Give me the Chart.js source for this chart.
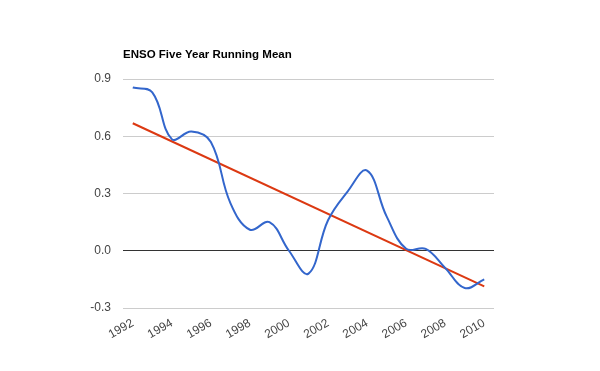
<!DOCTYPE html>
<html>
<head>
<meta charset="utf-8">
<script src="https://cdn.jsdelivr.net/npm/chart.js@4"></script>
<style>
  html, body { margin: 0; padding: 0; background: #fff; }
  #wrap { width: 600px; height: 371px; }
</style>
</head>
<body>
<div id="wrap"><canvas id="chart" width="600" height="371"></canvas></div>
<script>
// chart data
const years = ["1992", "1993", "1994", "1995", "1996", "1997", "1998", "1999", "2000", "2001",
    "2002", "2003", "2004", "2005", "2006", "2007", "2008", "2009", "2010"];
const runningMean = [0.855, 0.83, 0.585, 0.625, 0.57, 0.25, 0.11, 0.15, 0.0, -0.12,
    0.16, 0.31, 0.42, 0.18, 0.01, 0.01, -0.09, -0.195, -0.15];
// trend line: only the two end values, the line is drawn between them
const trend = [0.668, null, null, null, null, null, null, null, null, null,
    null, null, null, null, null, null, null, null, -0.187];
const yTicks = [-0.3, 0.0, 0.3, 0.6, 0.9];
const titleText = "ENSO Five Year Running Mean";

const fontFamily = "'Liberation Sans', Arial, sans-serif";

// draws the left-aligned title above the plot area
const titlePlugin = {
    id: "leftTitle",
    afterDraw(chart) {
        const ctx = chart.ctx;
        ctx.save();
        ctx.font = "bold 11.5px " + fontFamily;
        ctx.fillStyle = "#000";
        ctx.textBaseline = "alphabetic";
        ctx.textAlign = "left";
        ctx.fillText(titleText, chart.chartArea.left, 58);
        ctx.restore();
    },
};

new Chart(document.getElementById("chart"), {
    type: "line",
    data: {
        labels: years,
        datasets: [
            {
                label: "Running mean",
                data: runningMean,
                borderColor: "#3366cc",
                backgroundColor: "#3366cc",
                borderWidth: 2,
                pointRadius: 0,
                tension: 0.4,
                fill: false,
            },
            {
                label: "Trend",
                data: trend,
                borderColor: "#dc3912",
                backgroundColor: "#dc3912",
                borderWidth: 2,
                pointRadius: 0,
                spanGaps: true,
                tension: 0,
                fill: false,
            },
        ],
    },
    options: {
        responsive: false,
        animation: false,
        layout: {
            padding: { left: 0, top: 79, right: 106, bottom: 13 },
        },
        plugins: {
            legend: { display: false },
            title: { display: false },
            tooltip: { enabled: false },
        },
        scales: {
            x: {
                offset: true,
                grid: { display: false },
                border: { display: false },
                ticks: {
                    autoSkip: false,
                    maxRotation: 30,
                    minRotation: 30,
                    padding: 0,
                    color: "#444",
                    font: { family: fontFamily, size: 12 },
                    callback: (value, index) => (index % 2 === 0 ? years[index] : ""),
                },
                afterFit: (scale) => {
                    scale.height = 50;
                },
            },
            y: {
                min: yTicks[0],
                max: yTicks[yTicks.length - 1],
                afterBuildTicks: (scale) => {
                    scale.ticks = yTicks.map((v) => ({ value: v }));
                },
                grid: {
                    drawTicks: false,
                    color: (ctx) => (Math.abs(ctx.tick.value) < 1e-9 ? "#333" : "#ccc"),
                    lineWidth: 1,
                },
                border: { display: false },
                ticks: {
                    padding: 12,
                    color: "#444",
                    font: { family: fontFamily, size: 12 },
                    callback: (value) => value.toFixed(1),
                },
                afterFit: (scale) => {
                    scale.width = 123;
                },
            },
        },
    },
    plugins: [titlePlugin],
});
</script>
</body>
</html>
